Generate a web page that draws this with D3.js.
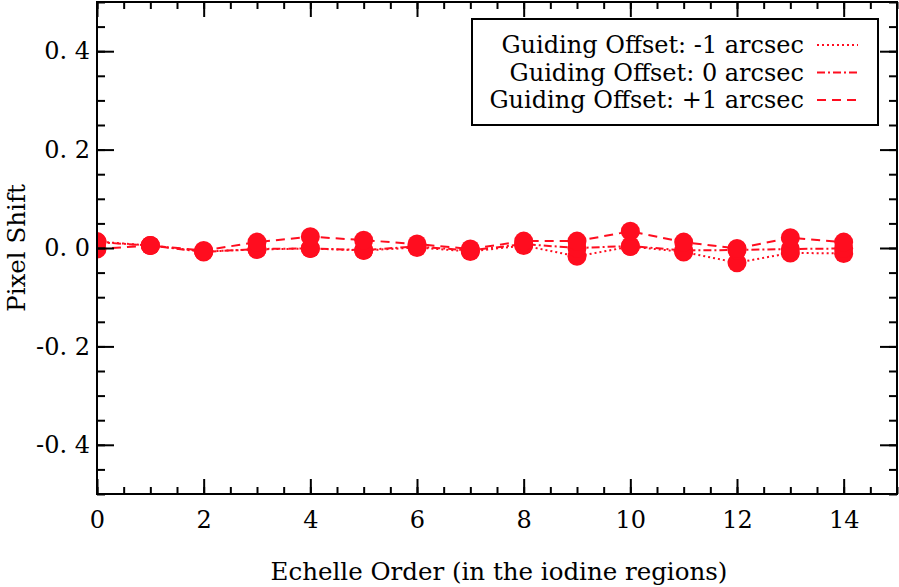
<!DOCTYPE html>
<html>
<head>
<meta charset="utf-8">
<script src="https://cdn.jsdelivr.net/npm/d3@7"></script>
<style>
  body { margin: 0; background: #fff; }
  text { font-family: "DejaVu Serif", serif; fill: #000; }
</style>
</head>
<body>
<div id="chart"></div>
<script>
// echelle orders
var orders = [0, 1, 2, 3, 4, 5, 6, 7, 8, 9, 10, 11, 12, 13, 14];

// pixel shift for each guiding offset
var offsetMinus1 = [0.013, 0.005, -0.007, -0.003, -0.001, -0.005, 0.001, -0.007, 0.005, -0.017, 0.003, -0.008, -0.030, -0.010, -0.011];
var offsetZero   = [0.012, 0.005, -0.008, -0.002, -0.001, -0.004, 0.003, -0.005, 0.008, 0.000, 0.004, -0.005, -0.004, -0.002, -0.001];
var offsetPlus1  = [-0.002, 0.005, -0.005, 0.012, 0.023, 0.016, 0.008, -0.002, 0.014, 0.014, 0.034, 0.012, -0.001, 0.021, 0.012];

var xTicks = [0, 2, 4, 6, 8, 10, 12, 14];
var yTicks = [-0.4, -0.2, 0.0, 0.2, 0.4];
var yTickLabels = ["-0. 4", "-0. 2", "0. 0", "0. 2", "0. 4"];

var seriesNames = ["Guiding Offset: -1 arcsec", "Guiding Offset: 0 arcsec", "Guiding Offset: +1 arcsec"];

var red = "#ff0d1f";

var margin = { top: 2, right: 2, bottom: 93, left: 97 },
  width = 899 - margin.left - margin.right,
  height = 587 - margin.top - margin.bottom;

var x = d3.scaleLinear().domain([0, 15]).range([0, width]);
var y = d3.scaleLinear().domain([-0.5, 0.5]).range([height, 0]);

var svg = d3.select("#chart")
  .append("svg")
  .attr("width", 899)
  .attr("height", 587);

var g = svg.append("g")
  .attr("transform", "translate(" + margin.left + "," + margin.top + ")");

svg.append("defs").append("clipPath")
  .attr("id", "plotclip")
  .append("rect")
  .attr("width", width)
  .attr("height", height);

var series = [
  { name: seriesNames[0], values: offsetMinus1, dash: "2,3" },
  { name: seriesNames[1], values: offsetZero, dash: "8,3,2,3" },
  { name: seriesNames[2], values: offsetPlus1, dash: "9,6" }
];

var line = d3.line()
  .x(function(d) { return x(d[0]); })
  .y(function(d) { return y(d[1]); });

var plot = g.append("g").attr("clip-path", "url(#plotclip)");

series.forEach(function(s) {
  var pts = orders.map(function(o, i) { return [o, s.values[i]]; });
  plot.append("path")
    .datum(pts)
    .attr("d", line)
    .attr("fill", "none")
    .attr("stroke", red)
    .attr("stroke-width", 2)
    .attr("stroke-dasharray", s.dash);
  plot.selectAll(null)
    .data(pts)
    .enter()
    .append("circle")
    .attr("cx", function(d) { return x(d[0]); })
    .attr("cy", function(d) { return y(d[1]); })
    .attr("r", 9.5)
    .attr("fill", red);
});

// axes: major + minor ticks pointing inward on all four sides
var xMinor = d3.range(0, 15.01, 0.5);
var yMinor = d3.range(-0.5, 0.501, 0.05);

function tickFmtNone() { return ""; }

g.append("g")
  .attr("transform", "translate(0," + height + ")")
  .call(d3.axisBottom(x).tickValues(xMinor).tickSizeInner(-7).tickSizeOuter(0).tickFormat(tickFmtNone));
g.append("g")
  .attr("class", "x axis")
  .attr("transform", "translate(0," + height + ")")
  .call(d3.axisBottom(x).tickValues(xTicks).tickSizeInner(-15).tickSizeOuter(0).tickPadding(17).tickFormat(d3.format("d")));
g.append("g")
  .call(d3.axisTop(x).tickValues(xMinor).tickSizeInner(-7).tickSizeOuter(0).tickFormat(tickFmtNone));
g.append("g")
  .call(d3.axisTop(x).tickValues(xTicks).tickSizeInner(-15).tickSizeOuter(0).tickFormat(tickFmtNone));

g.append("g")
  .call(d3.axisLeft(y).tickValues(yMinor).tickSizeInner(-8).tickSizeOuter(0).tickFormat(tickFmtNone));
g.append("g")
  .attr("class", "y axis")
  .call(d3.axisLeft(y).tickValues(yTicks).tickSizeInner(-17).tickSizeOuter(0).tickPadding(7)
    .tickFormat(function(d, i) { return yTickLabels[i]; }));
g.append("g")
  .attr("transform", "translate(" + width + ",0)")
  .call(d3.axisRight(y).tickValues(yMinor).tickSizeInner(-8).tickSizeOuter(0).tickFormat(tickFmtNone));
g.append("g")
  .attr("transform", "translate(" + width + ",0)")
  .call(d3.axisRight(y).tickValues(yTicks).tickSizeInner(-17).tickSizeOuter(0).tickFormat(tickFmtNone));

g.selectAll(".domain").remove();
g.selectAll(".tick line").attr("stroke", "#000").attr("stroke-width", 2);
g.selectAll(".tick text")
  .style("font-family", "DejaVu Serif, serif")
  .style("font-size", "24px")
  .attr("fill", "#000");

g.append("rect")
  .attr("width", width)
  .attr("height", height)
  .attr("fill", "none")
  .attr("stroke", "#000")
  .attr("stroke-width", 2);

// axis titles
g.append("text")
  .attr("x", width / 2 + 2)
  .attr("y", height + 86)
  .attr("text-anchor", "middle")
  .style("font-size", "24.5px")
  .text("Echelle Order (in the iodine regions)");

svg.append("text")
  .attr("transform", "translate(25," + (margin.top + height / 2) + ") rotate(-90)")
  .attr("text-anchor", "middle")
  .style("font-size", "24.5px")
  .text("Pixel Shift");

// legend
var legend = g.append("g").attr("transform", "translate(375,17)");
legend.append("rect")
  .attr("width", 406)
  .attr("height", 106)
  .attr("fill", "#fff")
  .attr("stroke", "#000")
  .attr("stroke-width", 2);

var rows = legend.selectAll(".row")
  .data(series)
  .enter()
  .append("g")
  .attr("transform", function(d, i) { return "translate(0," + (26 + i * 27.5) + ")"; });

rows.append("text")
  .attr("x", 332)
  .attr("dy", "0.35em")
  .attr("text-anchor", "end")
  .style("font-size", "24px")
  .text(function(d) { return d.name; });

rows.append("line")
  .attr("x1", 345)
  .attr("x2", 386)
  .attr("stroke", red)
  .attr("stroke-width", 2)
  .attr("stroke-dasharray", function(d) { return d.dash; });
</script>
</body>
</html>
